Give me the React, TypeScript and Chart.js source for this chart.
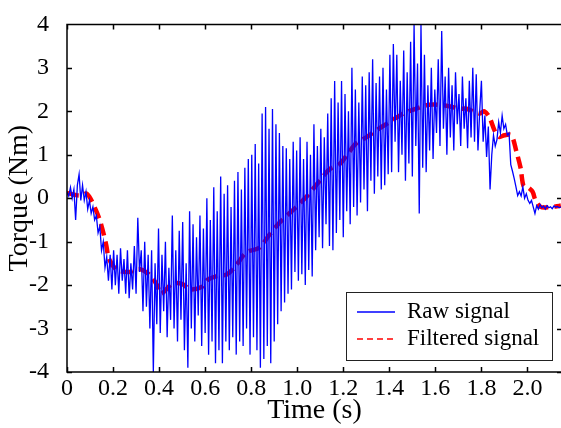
import { useEffect, useRef } from "react";
import { Chart, registerables } from "chart.js";

Chart.register(...registerables);

// Raw torque samples, one every sampleStep seconds starting at t = 0
const sampleStep = 0.0075;
const rawSignal = [
  0.15, 0.05, 0.25, 0.0, 0.2, -0.5, 0.3, 0.55, -0.05, 0.3, -0.05, 0.15, -0.25,
  -0.05, -0.35, -0.2, -0.5, -0.4, -0.8, -0.65, -1.2, -1.0, -1.6, -1.35, -1.9, -1.3, -2.1,
  -1.2, -2.0, -1.3, -2.2, -1.15, -1.9, -1.4, -2.2, -1.2, -2.3, -1.5, -2.1, -1.1, -2.2, -0.45, -1.7, -1.2, -2.6, -1.0, -2.5,
  -1.3, -3.0, -1.2, -4.0, -1.5, -2.9, -0.7, -3.1, -1.3, -2.6, -1.0, -3.2, -1.6, -2.8,
  -0.4, -3.0, -1.2, -3.3, -0.75, -2.8, -0.55, -3.5, -1.5, -3.9, -0.3, -3.0, -0.6, -3.3, -0.9, -2.7, -0.4, -3.4, -0.7,
  -3.1, 0.0, -3.6, -0.5, -3.3, 0.25, -3.8, -0.3, -3.5, 0.5, -3.8, 0.1, -3.3, 0.3, -3.5, -0.2, -3.2, 0.4, -3.6, 0.6,
  -3.3, 0.2, -3.4, 0.7, -3.0, 0.9, -3.6, 1.0, -3.2, 1.25, -3.5, 0.8, -3.9, 1.95, -3.7, 2.1, -3.4, 1.6, -3.8, 2.05,
  -3.3, 1.7, -2.9, 1.5, -2.6, 1.2, -2.4, 1.15, -2.2, 0.9, -2.1, 1.3, -1.7, 1.1, -1.9, 1.4, -1.75, 0.9, -2.0, 1.3,
  -1.65, 1.0, -1.8, 1.7,
  -1.2, 1.2, -0.9, 1.6, -1.15, 1.4, -0.6, 1.95, -1.1, 2.3, -1.2, 2.7, -0.8, 2.2, -0.5, 2.7, -0.9, 2.4, -0.3, 2.0,
  -0.6, 3.0, -0.2, 2.5, -0.4, 2.2, -0.1, 2.8, 0.2, 2.6, -0.3, 2.9, 0.4, 3.2, 0.1, 2.65, 0.5, 2.8, 0.2, 3.0,
  0.3, 2.5, 0.55, 3.3, 0.6, 3.55,
  1.3, 3.3, 0.6, 2.7, 1.0, 3.4, 0.4, 2.9, 0.8, 3.6, 0.5, 4.0, 1.2, 3.1, -0.35, 4.0, 0.7, 3.3, 0.6, 2.6,
  1.1, 3.0, 0.9, 2.5, 1.5, 3.2, 1.2, 3.85, 1.6, 2.8, 1.0, 3.0, 1.4, 2.6, 1.1, 2.9, 1.7, 2.4, 1.2, 2.8,
  1.6, 2.3, 1.15, 2.7, 1.4, 3.0, 1.3,
  2.85, 1.1, 2.0, 2.7, 1.3, 1.9, 0.95, 1.65, 0.2, 1.0, 1.45, 1.2, 1.35,
  1.75, 1.5, 1.9, 1.6, 1.7, 1.45, 1.5, 0.77, 0.62, 0.45, 0.26, 0.06, 0.15, 0.05, 0.26, 0.0, 0.1, -0.05, -0.12, -0.05,
  -0.2, -0.35, -0.17, -0.25, -0.15, -0.22, -0.18, -0.25, -0.17, -0.22, -0.2, -0.24, -0.18, -0.21, -0.19, -0.22, -0.2,
];

// Filtered signal (time, value)
const filteredTime = [
  0.0, 0.052, 0.087, 0.126, 0.148, 0.17, 0.183, 0.217, 0.27, 0.313, 0.36, 0.391, 0.408, 0.457, 0.5,
  0.535, 0.587, 0.61, 0.648, 0.696, 0.735, 0.778, 0.835, 0.878, 0.91, 0.935, 0.98, 0.996, 1.043, 1.096,
  1.139, 1.183, 1.217, 1.257, 1.3, 1.343, 1.4, 1.457, 1.517, 1.574, 1.648, 1.704, 1.735, 1.791, 1.813,
  1.835, 1.857, 1.878, 1.9, 1.93, 1.952, 1.97, 1.983, 2.0, 2.022, 2.035, 2.057, 2.087, 2.122, 2.145,
];
const filteredSignal = [
  0.12, 0.06, 0.1, -0.28, -0.6, -1.07, -1.4, -1.65, -1.7, -1.63, -1.77, -2.0, -2.2, -1.97, -1.97,
  -2.1, -2.04, -1.88, -1.8, -1.75, -1.54, -1.25, -1.14, -0.85, -0.64, -0.5, -0.28, -0.2, 0.05, 0.39,
  0.66, 0.78, 1.0, 1.27, 1.4, 1.56, 1.75, 1.94, 2.06, 2.15, 2.13, 2.06, 2.06, 1.95, 2.0,
  1.86, 1.56, 1.41, 1.45, 1.45, 1.07, 0.7, 0.28, 0.26, 0.15, -0.05, -0.2, -0.21, -0.19, -0.17,
];

const xTicks = [0, 0.2, 0.4, 0.6, 0.8, 1.0, 1.2, 1.4, 1.6, 1.8, 2.0];
const yTicks = [-4, -3, -2, -1, 0, 1, 2, 3, 4];
const xLabel = "Time (s)";
const yLabel = "Torque (Nm)";
const legendLabels = ["Raw signal", "Filtered signal"];

const SERIF = '"Liberation Serif", "Times New Roman", serif';

const framePlugin = {
  id: "frame",
  afterDatasetsDraw(chart: any) {
    const { ctx, chartArea: a, scales } = chart;
    const tl = 5;
    ctx.save();
    ctx.strokeStyle = "#000";
    ctx.lineWidth = 1.5;
    ctx.beginPath();
    ctx.moveTo(a.left, a.top);
    ctx.lineTo(a.right, a.top);
    ctx.lineTo(a.right, a.bottom);
    ctx.lineTo(a.left, a.bottom);
    ctx.closePath();
    for (const v of xTicks) {
      const px = Math.round(scales.x.getPixelForValue(v)) + 0.5;
      ctx.moveTo(px, a.bottom);
      ctx.lineTo(px, a.bottom - tl);
      ctx.moveTo(px, a.top);
      ctx.lineTo(px, a.top + tl);
    }
    for (const v of yTicks) {
      const py = Math.round(scales.y.getPixelForValue(v)) + 0.5;
      ctx.moveTo(a.left, py);
      ctx.lineTo(a.left + tl, py);
      ctx.moveTo(a.right, py);
      ctx.lineTo(a.right - tl, py);
    }
    ctx.stroke();

    // y-axis title
    ctx.save();
    ctx.translate(20, (a.top + a.bottom) / 2);
    ctx.rotate(-Math.PI / 2);
    ctx.fillStyle = "#000";
    ctx.font = `28px ${SERIF}`;
    ctx.textAlign = "center";
    ctx.textBaseline = "middle";
    ctx.fillText(yLabel, 0, 0);
    ctx.restore();

    // legend
    const bl = a.right - 216;
    const br = a.right - 10;
    const bt = a.bottom - 80;
    const bb = a.bottom - 12;
    ctx.fillStyle = "#fff";
    ctx.fillRect(bl, bt, br - bl, bb - bt);
    ctx.lineWidth = 1;
    ctx.strokeStyle = "#222";
    ctx.strokeRect(bl + 0.5, bt + 0.5, br - bl, bb - bt);
    const y1 = bt + 20;
    const y2 = bt + 47;
    ctx.lineWidth = 1.5;
    ctx.strokeStyle = "#0000ff";
    ctx.beginPath();
    ctx.moveTo(bl + 11, y1);
    ctx.lineTo(bl + 49, y1);
    ctx.stroke();
    ctx.strokeStyle = "#ff0000";
    ctx.setLineDash([6, 4]);
    ctx.beginPath();
    ctx.moveTo(bl + 11, y2);
    ctx.lineTo(bl + 49, y2);
    ctx.stroke();
    ctx.setLineDash([]);
    ctx.fillStyle = "#000";
    ctx.font = `23px ${SERIF}`;
    ctx.textBaseline = "middle";
    ctx.textAlign = "left";
    ctx.fillText(legendLabels[0], bl + 61, y1);
    ctx.fillText(legendLabels[1], bl + 61, y2);
    ctx.restore();
  },
};

export default function App() {
  const ref = useRef<HTMLCanvasElement | null>(null);

  useEffect(() => {
    if (!ref.current) return;
    const rawData = rawSignal.map((v, i) => ({ x: i * sampleStep, y: v }));
    const filtData = filteredSignal.map((v, i) => ({ x: filteredTime[i], y: v }));
    const chart = new Chart(ref.current, {
      type: "line",
      data: {
        datasets: [
          {
            label: legendLabels[0],
            data: rawData,
            borderColor: "#0000ff",
            borderWidth: 1.3,
            pointRadius: 0,
            tension: 0,
          },
          {
            label: legendLabels[1],
            data: filtData,
            borderColor: "#ff0000",
            borderWidth: 4.5,
            borderDash: [12, 6],
            pointRadius: 0,
            tension: 0.3,
          },
        ],
      },
      options: {
        animation: false,
        responsive: false,
        devicePixelRatio: 1,
        parsing: false,
        layout: { padding: { top: 17, right: 4, left: 0, bottom: 0 } },
        plugins: { legend: { display: false }, tooltip: { enabled: false } },
        scales: {
          x: {
            type: "linear",
            min: 0,
            max: 2.15,
            grid: { display: false },
            border: { display: false },
            afterFit: (s: any) => {
              s.height = 56;
            },
            afterBuildTicks: (s: any) => {
              s.ticks = xTicks.map((v) => ({ value: v }));
            },
            ticks: {
              padding: -6,
              maxRotation: 0,
              autoSkip: false,
              color: "#000",
              font: { family: SERIF, size: 24 },
              callback: (v: any) => (Number(v) === 0 ? "0" : Number(v).toFixed(1)),
            },
            title: {
              display: true,
              text: xLabel,
              color: "#000",
              font: { family: SERIF, size: 28 },
              padding: { top: 0, bottom: 1 },
            },
          },
          y: {
            type: "linear",
            min: -4,
            max: 4,
            grid: { display: false },
            border: { display: false },
            afterFit: (s: any) => {
              s.width = 67;
            },
            afterBuildTicks: (s: any) => {
              s.ticks = yTicks.map((v) => ({ value: v }));
            },
            ticks: {
              padding: 10,
              autoSkip: false,
              color: "#000",
              font: { family: SERIF, size: 24 },
              callback: (v: any) => String(Number(v)),
            },
          },
        },
      },
      plugins: [framePlugin],
    });
    return () => chart.destroy();
  }, []);

  return (
    <div
      style={{
        position: "fixed",
        left: 0,
        top: 0,
        width: 561,
        height: 428,
        overflow: "hidden",
        background: "#fff",
      }}
    >
      <canvas ref={ref} width={566} height={428} style={{ display: "block" }} />
    </div>
  );
}
